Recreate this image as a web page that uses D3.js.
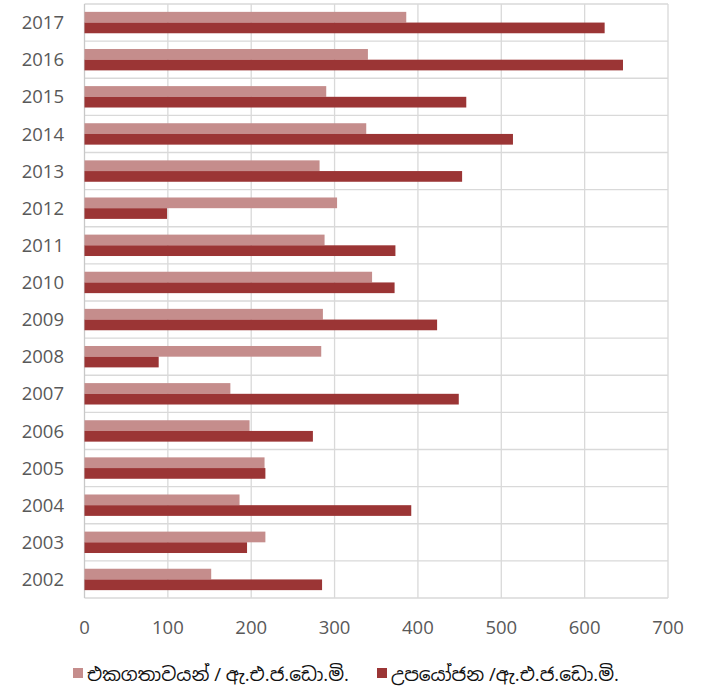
<!DOCTYPE html>
<html><head><meta charset="utf-8">
<script src="https://cdn.jsdelivr.net/npm/d3@7"></script>
<style>body{margin:0;background:#fff}svg{display:block}</style>
</head><body>
<script>
const years = ["2017","2016","2015","2014","2013","2012","2011","2010","2009","2008","2007","2006","2005","2004","2003","2002"];
const seriesNames = ["එකගතාවයන් / ඇ.එ.ජ.ඩො.මි.", "උපයෝජන /ඇ.එ.ජ.ඩො.මි."];
const agreements = [386,340,290,338,282,303,288,345,286,284,175,198,216,186,217,152];
const utilization = [624,646,458,514,453,99,373,372,423,89,449,274,217,392,195,285];
const xTicks = [0,100,200,300,400,500,600,700];
const colors = ["#c58d8c","#9b3535"];

(function(){
const W=708,H=690;
const svg=d3.select("body").append("svg").attr("width",W).attr("height",H);
const pl=84.5,pr=668,pt=4,pb=598;
const x=d3.scaleLinear().domain([0,700]).range([pl,pr]);
const y=d3.scaleBand().domain(years).range([pt,pb]);
const inner=d3.scaleBand().domain([0,1]).range([0,y.bandwidth()]).paddingInner(0).paddingOuter(0.735);
const font="'Open Sans','Noto Sans Sinhala','Noto Sans',sans-serif";

const g=svg.append("g");
g.selectAll(".vg").data(xTicks.slice(1)).join("line")
 .attr("x1",d=>x(d)).attr("x2",d=>x(d)).attr("y1",pt).attr("y2",pb)
 .attr("stroke","#d9d9d9").attr("stroke-width",1.3);
const bounds=years.map(d=>y(d)).concat([pb]);
g.selectAll(".hg").data(bounds).join("line")
 .attr("x1",pl).attr("x2",pr).attr("y1",d=>d).attr("y2",d=>d)
 .attr("stroke","#d9d9d9").attr("stroke-width",1.3);
g.append("line").attr("x1",pl).attr("x2",pl).attr("y1",pt).attr("y2",pb)
 .attr("stroke","#c8c8c8").attr("stroke-width",1.3);

const data=[agreements,utilization];
data.forEach((vals,si)=>{
  svg.append("g").selectAll("rect").data(years).join("rect")
   .attr("x",x(0)).attr("y",(d)=>y(d)+inner(si))
   .attr("width",(d,i)=>x(vals[i])-x(0)).attr("height",inner.bandwidth())
   .attr("fill",colors[si]);
});

svg.append("g").selectAll("text").data(years).join("text")
 .attr("x",64).attr("y",d=>y(d)+y.bandwidth()/2).attr("dy","0.36em")
 .attr("text-anchor","end").attr("font-family",font).attr("font-size",18.5)
 .attr("fill","#595959").text(d=>d);

svg.append("g").selectAll("text").data(xTicks).join("text")
 .attr("x",d=>x(d)).attr("y",627).attr("dy","0.36em")
 .attr("text-anchor","middle").attr("font-family",font).attr("font-size",18.5)
 .attr("fill","#595959").text(d=>d);

const lg=svg.append("g");
const lx=[73,377];
seriesNames.forEach((n,i)=>{
  lg.append("rect").attr("x",lx[i]).attr("y",668).attr("width",10).attr("height",10).attr("fill",colors[i]);
  lg.append("text").attr("x",lx[i]+14).attr("y",674).attr("dy","0.35em")
   .attr("font-family",font).attr("font-size",18.6).attr("fill","#111").text(n);
});
})();
</script>
</body></html>
